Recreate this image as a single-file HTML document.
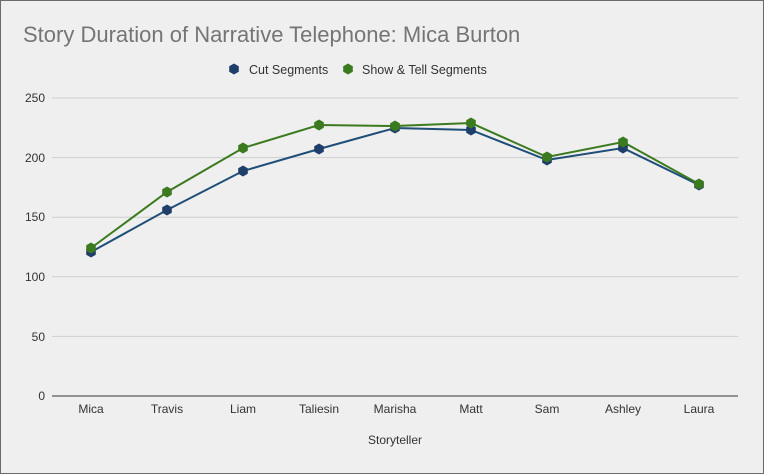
<!DOCTYPE html>
<html><head><style>
html,body{margin:0;padding:0;background:#efefef;}
svg{display:block;}
text{font-family:"Liberation Sans",sans-serif;}
</style></head><body>
<svg width="764" height="474" viewBox="0 0 764 474" xmlns="http://www.w3.org/2000/svg">
<defs>
<polygon id="hx" points="0,-5.5 4.8,-2.75 4.8,2.75 0,5.5 -4.8,2.75 -4.8,-2.75"/>
</defs>
<rect x="0.5" y="0.5" width="763" height="473" fill="#efefef" stroke="#6b6b6b"/>
<text x="23" y="42" font-size="22" fill="#757575">Story Duration of Narrative Telephone: Mica Burton</text>
<use href="#hx" x="234" y="69" fill="#1f3f6b"/>
<text x="249" y="74" font-size="12.5" fill="#333">Cut Segments</text>
<use href="#hx" x="348" y="69" fill="#3b7a1e"/>
<text x="362" y="74" font-size="12.5" fill="#333">Show &amp; Tell Segments</text>
<g stroke="#cfcfcf" stroke-width="1">
<line x1="52" y1="98" x2="738" y2="98"/>
<line x1="52" y1="157.6" x2="738" y2="157.6"/>
<line x1="52" y1="217.2" x2="738" y2="217.2"/>
<line x1="52" y1="276.8" x2="738" y2="276.8"/>
<line x1="52" y1="336.4" x2="738" y2="336.4"/>
</g>
<line x1="52" y1="396" x2="738" y2="396" stroke="#333"/>
<g font-size="12" fill="#333" text-anchor="end">
<text x="45" y="102">250</text><text x="45" y="162">200</text><text x="45" y="221">150</text>
<text x="45" y="281">100</text><text x="45" y="341">50</text><text x="45" y="400">0</text>
</g>
<g font-size="12" fill="#333" text-anchor="middle">
<text x="91" y="413">Mica</text><text x="167" y="413">Travis</text><text x="243" y="413">Liam</text>
<text x="319" y="413">Taliesin</text><text x="395" y="413">Marisha</text><text x="471" y="413">Matt</text>
<text x="547" y="413">Sam</text><text x="623" y="413">Ashley</text><text x="699" y="413">Laura</text>
<text x="395" y="444">Storyteller</text>
</g>
<polyline fill="none" stroke="#1f4e79" stroke-width="2" points="91,252 167,210 243,171 319,149 395,128 471,130 547,160 623,148 699,185"/>
<polyline fill="none" stroke="#3b7a1e" stroke-width="2" points="91,248 167,192 243,148 319,125 395,126 471,123 547,157 623,142 699,184"/>
<g fill="#1f3f6b">
<use href="#hx" x="91" y="252"/><use href="#hx" x="167" y="210"/><use href="#hx" x="243" y="171"/>
<use href="#hx" x="319" y="149"/><use href="#hx" x="395" y="128"/><use href="#hx" x="471" y="130"/>
<use href="#hx" x="547" y="160"/><use href="#hx" x="623" y="148"/><use href="#hx" x="699" y="185"/>
</g>
<g fill="#3b7a1e">
<use href="#hx" x="91" y="248"/><use href="#hx" x="167" y="192"/><use href="#hx" x="243" y="148"/>
<use href="#hx" x="319" y="125"/><use href="#hx" x="395" y="126"/><use href="#hx" x="471" y="123"/>
<use href="#hx" x="547" y="157"/><use href="#hx" x="623" y="142"/><use href="#hx" x="699" y="184"/>
</g>
</svg>
</body></html>
